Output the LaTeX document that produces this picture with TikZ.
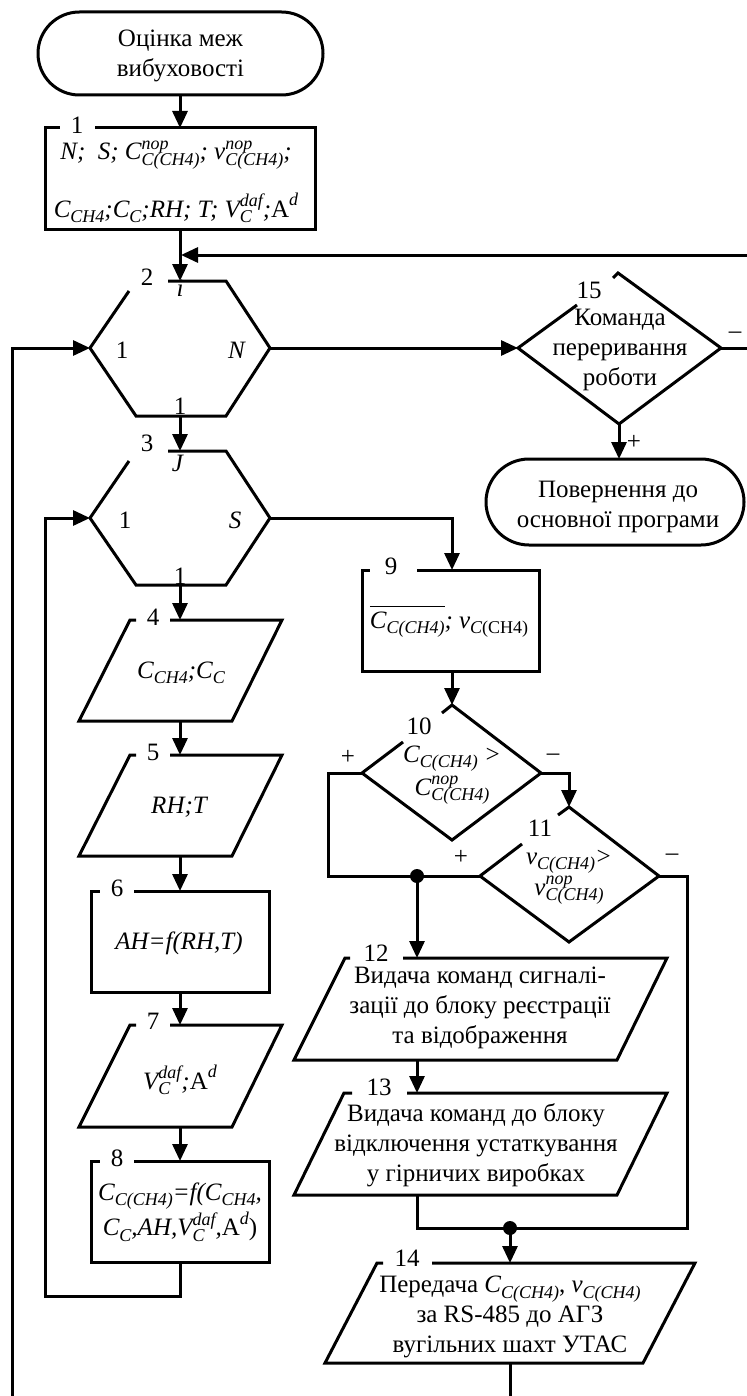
\documentclass[tikz,border=0pt]{standalone}
\usepackage{fontspec}
\setmainfont{Liberation Serif}
\usetikzlibrary{arrows.meta}
\newcommand{\ssz}{\fontsize{9}{10}\selectfont\itshape}
\newcommand{\fss}[3]{#1\setbox0=\hbox{\ssz #2}\setbox2=\hbox{\ssz #3}\ifdim\wd0>\wd2 \rlap{\lower.22em\box2}\raise.42em\box0\else\rlap{\raise.42em\box0}\lower.22em\box2\fi}
\newcommand{\fsb}[2]{#1\lower.22em\hbox{\ssz #2}}
\newcommand{\fsp}[2]{#1\raise.45em\hbox{\ssz #2}}
\begin{document}
\begin{tikzpicture}[x=0.5pt,y=-0.5pt,line width=1.5pt,line join=miter,
  every node/.style={font=\fontsize{12.5}{15}\selectfont,inner sep=0pt},
  txt/.style={align=center},
  itx/.style={font=\fontsize{12.5}{15}\selectfont\itshape},
  arr/.style={-{Triangle[length=8.5pt,width=7.5pt]}},
  dot/.style={circle,fill=black,minimum size=7pt}]
\clip (0,0) rectangle (747,1396);

% ---------- coordinates of connection points
\coordinate (s-b) at (180,95);
\coordinate (b1-t) at (180,128);
\coordinate (b1-b) at (180,230);
\coordinate (h2-t) at (180,281);
\coordinate (h2-l) at (90,348);
\coordinate (h2-r) at (270,348);
\coordinate (h2-b) at (180,416);
\coordinate (h3-t) at (180,451);
\coordinate (h3-l) at (90,518);
\coordinate (h3-r) at (270,518);
\coordinate (h3-b) at (180,585);
\coordinate (b4-t) at (180,620);
\coordinate (b4-b) at (180,721);
\coordinate (b5-t) at (180,755);
\coordinate (b5-b) at (180,856);
\coordinate (b6-t) at (180,891);
\coordinate (b6-b) at (180,992);
\coordinate (b7-t) at (180,1025);
\coordinate (b7-b) at (180,1127);
\coordinate (b8-t) at (180,1161);
\coordinate (b8-b) at (180,1262);
\coordinate (d15-l) at (518,348);
\coordinate (d15-r) at (721,348);
\coordinate (d15-b) at (619,424);
\coordinate (e-t) at (619,459);
\coordinate (b9-t) at (452,570);
\coordinate (b9-b) at (452,671);
\coordinate (d10-t) at (452,705);
\coordinate (d10-l) at (362,773);
\coordinate (d10-r) at (541,773);
\coordinate (d11-t) at (569,807);
\coordinate (d11-l) at (480,876);
\coordinate (d11-r) at (659,876);
\coordinate (j1) at (417,876);
\coordinate (b12-t) at (417,958);
\coordinate (b12-b) at (417,1060);
\coordinate (b13-t) at (417,1093);
\coordinate (b13-b) at (417,1195);
\coordinate (j2) at (510,1228);
\coordinate (b14-t) at (510,1263);
\coordinate (b14-b) at (510,1363);
\coordinate (loopR) at (755,255);
\coordinate (loopT) at (181,255);

% ---------- start terminal
\draw[rounded corners=20.7pt] (38,12) rectangle (323,95);
\node[txt] (start) at (180.5,56) {Оцінка меж\\вибуховості};

% ---------- block 1
\draw (95,128) -- (315,128) -- (315,230) -- (45,230) -- (45,128) -- (60,128);
\node (n1) at (77,125) {1};
\node[itx] (b1a) at (176,155) {N;\ \ S; \fss{C}{пор}{C(CH4)}; \fss{v}{пор}{C(CH4)};};
\node[itx] (b1b) at (176,208) {\fsb{C}{CH4};\fsb{C}{C};RH; T; \fss{V}{daf}{C};\fsp{\upshape A}{d}};

% ---------- hexagon 2
\draw (168,281) -- (226,281) -- (270,348) -- (226,416) -- (136,416) -- (90,348) -- (129,291);
\node (n2) at (147,277) {2};
\node (h2i) at (180,288) {\textit{i}};
\node (h2a) at (122,350) {1};
\node (h2n) at (237,350) {\textit{N}};
\node (h2c) at (180,406) {1};

% ---------- hexagon 3
\draw (168,451) -- (226,451) -- (270,518) -- (226,585) -- (136,585) -- (90,518) -- (129,461);
\node (n3) at (147,443) {3};
\node (h3j) at (178,463) {\textit{J}};
\node (h3a) at (125,520) {1};
\node (h3s) at (235,520) {\textit{S}};
\node (h3c) at (180,576) {1};

% ---------- block 4
\draw (170,620) -- (282,620) -- (232,721) -- (79,721) -- (130,620) -- (136,620);
\node (n4) at (153,617) {4};
\node[itx] (b4x) at (181,673) {\fsb{C}{CH4};\fsb{C}{C}};

% ---------- block 5
\draw (170,755) -- (282,755) -- (232,856) -- (79,856) -- (130,755) -- (136,755);
\node (n5) at (153,752) {5};
\node[itx] (b5x) at (179,807) {RH;T};

% ---------- block 6
\draw (134,891) -- (269,891) -- (269,992) -- (91,992) -- (91,891) -- (100,891);
\node (n6) at (117,888) {6};
\node[itx] (b6x) at (179,943) {AH=f(RH,T)};

% ---------- block 7
\draw (170,1025) -- (282,1025) -- (232,1127) -- (79,1127) -- (130,1025) -- (136,1025);
\node (n7) at (153,1021) {7};
\node[itx] (b7x) at (180,1080) {\fss{V}{daf}{C};\fsp{\upshape A}{d}};

% ---------- block 8
\draw (134,1161) -- (269,1161) -- (269,1262) -- (91,1262) -- (91,1161) -- (100,1161);
\node (n8) at (117,1158) {8};
\node[txt,itx] (b8x) at (180,1212) {\fsb{C}{C(CH4)}=f(\fsb{C}{CH4},\\\fsb{C}{C},AH,\fss{V}{daf}{C},\fsp{\upshape A}{d})};

% ---------- diamond 15
\draw (613,278) -- (618,273) -- (721,348) -- (619,424) -- (518,348) -- (577,305);
\node (n15) at (589,290) {15};
\node[txt] (d15x) at (620,350) {Команда\\переривання\\роботи};
\node (d15m) at (735,335) {–};
\node (d15p) at (634,442) {+};

% ---------- end terminal
\draw[rounded corners=21.5pt] (486,459) rectangle (744,545);
\node[txt] (end) at (618,507) {Повернення до\\основної програми};

% ---------- block 9
\draw (417,570) -- (539,570) -- (539,671) -- (362,671) -- (362,570) -- (370,570);
\node (n9) at (391,566) {9};
\node[itx] (b9x) at (449,622) {\setbox4=\hbox{\fsb{C}{C(CH4)}}\rlap{\raise 0.85em\hbox to \wd4{\hrulefill}}\box4; \fsb{v}{C\upshape(CH4)}};

% ---------- diamond 10
\draw (442,713) -- (452,705) -- (541,773) -- (452,840) -- (362,773) -- (403,742);
\node (n10) at (419,726) {10};
\node[txt,font=\fontsize{12.5}{16.5}\selectfont\itshape] (d10x) at (452,775) {\fsb{C}{C(CH4)} >\\\fss{C}{пор}{C(CH4)}};
\node (d10p) at (348,757) {+};
\node (d10m) at (553,757) {–};

% ---------- diamond 11
\draw (558,815) -- (569,807) -- (659,876) -- (569,942) -- (480,876) -- (522,844);
\node (n11) at (540,828) {11};
\node[txt,font=\fontsize{12.5}{15.5}\selectfont\itshape] (d11x) at (569,877) {\fsb{v}{C(CH4)}>\\\fss{v}{пор}{C(CH4)}};
\node (d11p) at (461,857) {+};
\node (d11m) at (672,857) {–};

% ---------- block 12
\draw (403,958) -- (667,958) -- (617,1060) -- (294,1060) -- (345,958) -- (350,958);
\node (n12) at (376,953) {12};
\node[txt] (b12x) at (480,1008) {Видача команд сигналі-\\зації до блоку реєстрації\\та відображення};

% ---------- block 13
\draw (407,1093) -- (667,1093) -- (617,1195) -- (294,1195) -- (344,1093) -- (352,1093);
\node (n13) at (379,1087) {13};
\node[txt] (b13x) at (476,1145) {Видача команд до блоку\\відключення устаткування\\у гірничих виробках};

% ---------- block 14
\draw (432,1263) -- (695,1263) -- (643,1363) -- (325,1363) -- (377,1263) -- (383,1263);
\node (n14) at (407,1258) {14};
\node[txt] (b14x) at (510,1317) {Передача \textit{\fsb{C}{C(CH4)}}, \textit{\fsb{v}{C(CH4)}}\\за RS-485 до АГЗ\\вугільних шахт УТАС};

% ---------- connectors
\draw[arr] (s-b) -- (b1-t);
\draw[arr] (b1-b) -- (h2-t);
\draw[arr] (d15-r) -- (d15-r -| loopR) -- (loopR) -- (loopT);
\draw[arr] (h2-r) -- (d15-l);
\draw[arr] (d15-b) -- (e-t);
\draw[arr] (h2-b) -- (h3-t);
\draw[arr] (h3-b) -- (b4-t);
\draw[arr] (b4-b) -- (b5-t);
\draw[arr] (b5-b) -- (b6-t);
\draw[arr] (b6-b) -- (b7-t);
\draw[arr] (b7-b) -- (b8-t);
\draw[arr] (b8-b) -- ++(0,34) -| (45,518) -- (h3-l);
\draw[arr] (h3-r) -| (b9-t);
\draw[arr] (b9-b) -- (d10-t);
\draw[arr] (d10-r) -| (d11-t);
\draw (d10-l) -- (328,773) |- (j1);
\draw (d11-l) -- (j1);
\draw[arr] (j1) -- (b12-t);
\draw[arr] (b12-b) -- (b13-t);
\draw (b13-b) |- (j2);
\draw (d11-r) -- (687,876) |- (j2);
\draw[arr] (j2) -- (b14-t);
\draw[arr] (b14-b) -- (510,1420) -| (12,348) -- (h2-l);
\node[dot] (dot1) at (j1) {};
\node[dot] (dot2) at (j2) {};
\end{tikzpicture}
\end{document}
